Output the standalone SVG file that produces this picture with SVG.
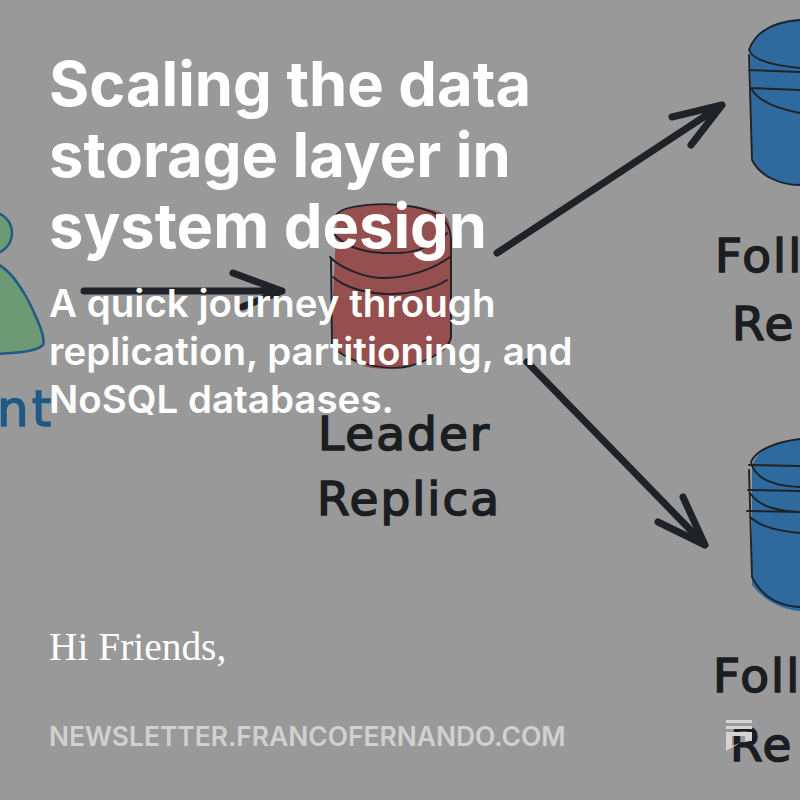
<svg xmlns="http://www.w3.org/2000/svg" width="800" height="800" viewBox="0 0 800 800">
<style>
.ink{fill:none;stroke:#1f2327;stroke-linecap:round;stroke-linejoin:round}
.thin{stroke-width:1.9}
.arrow{stroke-width:7}
.hand{font-family:"DejaVu Sans",sans-serif;fill:#1b1e21;stroke:#1b1e21;stroke-width:1.6;font-size:47px;letter-spacing:2px}
.title{font-family:Inter,"Liberation Sans",sans-serif;font-weight:700;font-size:61.4px;fill:#fff}
.sub{font-family:Inter,"Liberation Sans",sans-serif;font-weight:600;font-size:38.5px;fill:#fff}
</style>
<rect width="800" height="800" fill="#999999"/>
<g id="client">
<circle cx="-9" cy="233" r="21" fill="#6d9a74" stroke="#235a87" stroke-width="2.5"/>
<path d="M-5 263 C8 268 18 282 28 300 C38 320 46 338 43 345 C36 352 15 353 -5 354Z" fill="#6d9a74" stroke="#235a87" stroke-width="2.5"/>
<text x="-3" y="426" font-family="'DejaVu Sans',sans-serif" font-size="50" letter-spacing="3" fill="#1f5a87" stroke="#1f5a87" stroke-width="1.4">nt</text>
</g>
<g id="leader">
<path d="M337 214 C350 204 400 200 440 212 C449 216 451 225 451 240 L451 340 C440 360 400 372 372 368 C350 364 333 350 331 335 Z" fill="#964f4f"/>
<path class="ink thin" d="M331 258 L332 345 C345 362 385 372 410 366 C430 360 448 350 451 338 L451 240 C451 222 440 212 415 207 C385 201 345 205 337 214 C331 224 332 232 337 237 C350 250 375 254 400 253 C420 252 440 242 447 233"/>
<path class="ink thin" d="M330 257 C340 268 365 278 383 278 C410 278 435 268 450 257"/>
<path class="ink thin" d="M333 277 C345 288 367 293 385 294 C410 295 435 288 447 280"/>
<text class="hand" x="318" y="450">Leader</text>
<text class="hand" x="317" y="515">Replica</text>
</g>
<g id="follower-top">
<path d="M800 19 C775 20 755 30 750 48 L752 160 C760 176 780 186 800 186Z" fill="#2f6a9e"/>
<path class="ink thin" d="M800 20 C775 22 756 30 749 50 C752 58 767 65 800 68"/>
<path class="ink thin" d="M749 70 L800 72 M750 88 L800 90 M749 55 L752 160 C760 176 780 185 800 185 M752 90 C760 102 778 109 800 113"/>
<text class="hand" x="715" y="272">Foll</text>
<text class="hand" x="732" y="340" letter-spacing="6">Re</text>
</g>
<g id="follower-bottom">
<path d="M800 439 C775 440 755 450 752 468 L752 585 C765 602 785 610 800 611Z" fill="#2f6a9e"/>
<path class="ink thin" d="M800 439 C775 442 756 450 751 462 C755 480 775 486 800 487"/>
<path class="ink thin" d="M749 465 L800 466 M748 490 L800 491 M747 511 L800 512 M749 470 L752 577 C762 597 780 606 800 607 M750 493 C760 508 780 511 800 512 M750 517 C762 528 780 531 800 533"/>
<text class="hand" x="713" y="692">Foll</text>
<text class="hand" x="730" y="761" letter-spacing="6">Re</text>
</g>
<g id="connectors">
<path class="ink arrow" d="M84 291 L282 291 M233 273 L282 291 L242 307"/>
<path class="ink arrow" d="M497 253 L722 105 M672 117 L722 105 L691 145"/>
<path class="ink arrow" d="M527 362 L705 545 M683 497 L705 545 L658 522"/>
</g>
<g id="logo">
<path d="M726 720H752V723H726ZM726 726H752V729H726ZM726 732H752V741H745V736H732V746L740 743L726 751Z" fill="#d4d4d4"/>
</g>
<g id="text">
<text class="title" x="49" y="106">Scaling the data</text>
<text class="title" x="49" y="177">storage layer in</text>
<text class="title" x="49" y="248">system design</text>
<text class="sub" x="49" y="317">A quick journey through</text>
<text class="sub" x="49" y="365">replication, partitioning, and</text>
<text class="sub" x="49" y="413">NoSQL databases.</text>
<text x="49" y="660" font-family="'Liberation Serif',serif" font-size="39.4" fill="#fff">Hi Friends,</text>
<text x="49" y="746" font-family="Inter,'Liberation Sans',sans-serif" font-weight="600" font-size="26.4" fill="#d0d0d0">NEWSLETTER.FRANCOFERNANDO.COM</text>
</g>
</svg>
